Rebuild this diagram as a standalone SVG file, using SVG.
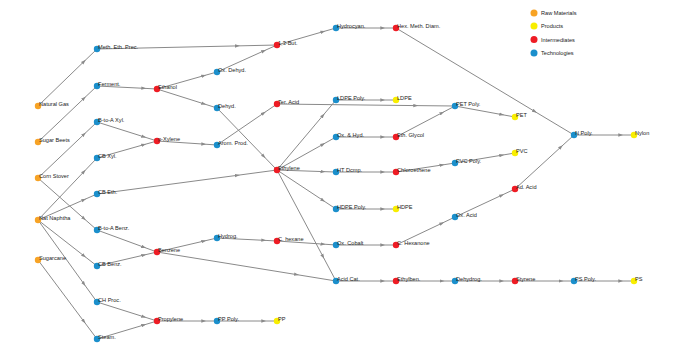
<svg xmlns="http://www.w3.org/2000/svg" width="674" height="364" viewBox="0 0 674 364">
<style>
.e{fill:none;stroke:#8a8a8a;stroke-width:1;marker-mid:url(#ar)}
.r{fill:#f7a325}.p{fill:#f8ee00}.i{fill:#ee1c24}.t{fill:#1b8fcc}
text{font-family:"Liberation Sans",Arial,sans-serif;font-size:5.6px;fill:#222}
</style>
<defs>
<marker id="ar" markerUnits="userSpaceOnUse" markerWidth="5" markerHeight="4" refX="2.5" refY="2" orient="auto"><path d="M0,0.3 L5,2 L0,3.7 z" fill="#8a8a8a"/></marker>
</defs>
<rect width="674" height="364" fill="#fff"/>
<g id="connectors">
<path class="e" d="M38,106 L84,61.5 L97,49"/>
<path class="e" d="M38,142 L84,98.3 L97,86"/>
<path class="e" d="M38,178 L84,134.3 L97,122"/>
<path class="e" d="M38,178 L84,218.6 L97,230"/>
<path class="e" d="M38,220 L84,171.6 L97,158"/>
<path class="e" d="M38,220 L84,199.7 L97,194"/>
<path class="e" d="M38,220 L84,255.9 L97,266"/>
<path class="e" d="M38,220 L84,284 L97,302"/>
<path class="e" d="M38,260 L84,321.6 L97,339"/>
<path class="e" d="M97,49 L237.4,45.9 L277,45"/>
<path class="e" d="M97,86 L143.8,88.3 L157,89"/>
<path class="e" d="M157,89 L203.8,75.7 L217,72"/>
<path class="e" d="M157,89 L203.8,103.8 L217,108"/>
<path class="e" d="M217,72 L263.8,50.9 L277,45"/>
<path class="e" d="M217,108 L263.8,156.4 L277,170"/>
<path class="e" d="M97,122 L143.8,136.8 L157,141"/>
<path class="e" d="M97,158 L143.8,144.7 L157,141"/>
<path class="e" d="M157,141 L203.8,144.1 L217,145"/>
<path class="e" d="M217,145 L263.8,113 L277,104"/>
<path class="e" d="M277,104 L415.8,105.6 L455,106"/>
<path class="e" d="M97,194 L237.4,175.3 L277,170"/>
<path class="e" d="M277,170 L323,115.4 L336,100"/>
<path class="e" d="M277,170 L323,144.3 L336,137"/>
<path class="e" d="M277,170 L323,171.6 L336,172"/>
<path class="e" d="M277,170 L323,200.4 L336,209"/>
<path class="e" d="M277,170 L323,256.6 L336,281"/>
<path class="e" d="M336,100 L382.8,100 L396,100"/>
<path class="e" d="M336,137 L382.8,137 L396,137"/>
<path class="e" d="M396,137 L442,112.8 L455,106"/>
<path class="e" d="M336,172 L382.8,172 L396,172"/>
<path class="e" d="M396,172 L442,165 L455,163"/>
<path class="e" d="M455,163 L501.8,155.2 L515,153"/>
<path class="e" d="M336,209 L382.8,209 L396,209"/>
<path class="e" d="M455,106 L501.8,114.6 L515,117"/>
<path class="e" d="M277,45 L323,31.7 L336,28"/>
<path class="e" d="M336,28 L382.8,28 L396,28"/>
<path class="e" d="M396,28 L534.8,111.5 L574,135"/>
<path class="e" d="M574,135 L620.8,135 L634,135"/>
<path class="e" d="M515,189 L561,146.9 L574,135"/>
<path class="e" d="M455,217 L501.8,195.2 L515,189"/>
<path class="e" d="M396,245 L442,223.2 L455,217"/>
<path class="e" d="M336,245 L382.8,245 L396,245"/>
<path class="e" d="M277,241 L323,244.1 L336,245"/>
<path class="e" d="M217,238 L263.8,240.3 L277,241"/>
<path class="e" d="M157,252 L203.8,241.1 L217,238"/>
<path class="e" d="M157,252 L296.6,274.6 L336,281"/>
<path class="e" d="M97,230 L143.8,247.2 L157,252"/>
<path class="e" d="M97,266 L143.8,255.1 L157,252"/>
<path class="e" d="M336,281 L382.8,281 L396,281"/>
<path class="e" d="M396,281 L442,281 L455,281"/>
<path class="e" d="M455,281 L501.8,281 L515,281"/>
<path class="e" d="M515,281 L561,281 L574,281"/>
<path class="e" d="M574,281 L620.8,281 L634,281"/>
<path class="e" d="M97,302 L143.8,316.8 L157,321"/>
<path class="e" d="M97,339 L143.8,325 L157,321"/>
<path class="e" d="M157,321 L203.8,321 L217,321"/>
<path class="e" d="M217,321 L263.8,321 L277,321"/>
</g>
<g id="n-natural-gas"><circle class="r" cx="38" cy="106" r="3.2"/><text x="39" y="106">Natural Gas</text></g>
<g id="n-sugar-beets"><circle class="r" cx="38" cy="142" r="3.2"/><text x="39" y="142">Sugar Beets</text></g>
<g id="n-corn-stover"><circle class="r" cx="38" cy="178" r="3.2"/><text x="39" y="178">Corn Stover</text></g>
<g id="n-nat-naphtha"><circle class="r" cx="38" cy="220" r="3.2"/><text x="39" y="220">Nat Naphtha</text></g>
<g id="n-sugarcane"><circle class="r" cx="38" cy="260" r="3.2"/><text x="39" y="260">Sugarcane</text></g>
<g id="n-meth-eth-prec"><circle class="t" cx="97" cy="49" r="3.2"/><text x="98" y="49">Meth. Eth. Prec.</text></g>
<g id="n-ferment"><circle class="t" cx="97" cy="86" r="3.2"/><text x="98" y="86">Ferment.</text></g>
<g id="n-b-to-a-xyl"><circle class="t" cx="97" cy="122" r="3.2"/><text x="98" y="122">B-to-A Xyl.</text></g>
<g id="n-cb-xyl"><circle class="t" cx="97" cy="158" r="3.2"/><text x="98" y="158">CB Xyl.</text></g>
<g id="n-cb-eth"><circle class="t" cx="97" cy="194" r="3.2"/><text x="98" y="194">CB Eth.</text></g>
<g id="n-b-to-a-benz"><circle class="t" cx="97" cy="230" r="3.2"/><text x="98" y="230">B-to-A Benz.</text></g>
<g id="n-cb-benz"><circle class="t" cx="97" cy="266" r="3.2"/><text x="98" y="266">CB Benz.</text></g>
<g id="n-ch-proc"><circle class="t" cx="97" cy="302" r="3.2"/><text x="98" y="302">CH Proc.</text></g>
<g id="n-steam"><circle class="t" cx="97" cy="339" r="3.2"/><text x="98" y="339">Steam.</text></g>
<g id="n-ethanol"><circle class="i" cx="157" cy="89" r="3.2"/><text x="158" y="89">Ethanol</text></g>
<g id="n-p-xylene"><circle class="i" cx="157" cy="141" r="3.2"/><text x="158" y="141">p-Xylene</text></g>
<g id="n-benzene"><circle class="i" cx="157" cy="252" r="3.2"/><text x="158" y="252">Benzene</text></g>
<g id="n-propylene"><circle class="i" cx="157" cy="321" r="3.2"/><text x="158" y="321">Propylene</text></g>
<g id="n-ox-dehyd"><circle class="t" cx="217" cy="72" r="3.2"/><text x="218" y="72">Ox. Dehyd.</text></g>
<g id="n-dehyd"><circle class="t" cx="217" cy="108" r="3.2"/><text x="218" y="108">Dehyd.</text></g>
<g id="n-arom-prod"><circle class="t" cx="217" cy="145" r="3.2"/><text x="218" y="145">Arom. Prod.</text></g>
<g id="n-hydrog"><circle class="t" cx="217" cy="238" r="3.2"/><text x="218" y="238">Hydrog.</text></g>
<g id="n-pp-poly"><circle class="t" cx="217" cy="321" r="3.2"/><text x="218" y="321">PP Poly.</text></g>
<g id="n-13-but"><circle class="i" cx="277" cy="45" r="3.2"/><text x="278" y="45">1,3-But.</text></g>
<g id="n-ter-acid"><circle class="i" cx="277" cy="104" r="3.2"/><text x="278" y="104">Ter. Acid</text></g>
<g id="n-ethylene"><circle class="i" cx="277" cy="170" r="3.2"/><text x="278" y="170">Ethylene</text></g>
<g id="n-c-hexane"><circle class="i" cx="277" cy="241" r="3.2"/><text x="278" y="241">C. hexane</text></g>
<g id="n-pp"><circle class="p" cx="277" cy="321" r="3.2"/><text x="278" y="321">PP</text></g>
<g id="n-hydrocyan"><circle class="t" cx="336" cy="28" r="3.2"/><text x="337" y="28">Hydrocyan.</text></g>
<g id="n-ldpe-poly"><circle class="t" cx="336" cy="100" r="3.2"/><text x="337" y="100">LDPE Poly.</text></g>
<g id="n-ox-hyd"><circle class="t" cx="336" cy="137" r="3.2"/><text x="337" y="137">Ox. &amp; Hyd.</text></g>
<g id="n-ht-dcmp"><circle class="t" cx="336" cy="172" r="3.2"/><text x="337" y="172">HT Dcmp.</text></g>
<g id="n-hdpe-poly"><circle class="t" cx="336" cy="209" r="3.2"/><text x="337" y="209">HDPE Poly.</text></g>
<g id="n-ox-cobalt"><circle class="t" cx="336" cy="245" r="3.2"/><text x="337" y="245">Ox. Cobalt</text></g>
<g id="n-acid-cat"><circle class="t" cx="336" cy="281" r="3.2"/><text x="337" y="281">Acid Cat.</text></g>
<g id="n-hex-meth-diam"><circle class="i" cx="396" cy="28" r="3.2"/><text x="397" y="28">Hex. Meth. Diam.</text></g>
<g id="n-ldpe"><circle class="p" cx="396" cy="100" r="3.2"/><text x="397" y="100">LDPE</text></g>
<g id="n-eth-glycol"><circle class="i" cx="396" cy="137" r="3.2"/><text x="397" y="137">Eth. Glycol</text></g>
<g id="n-chloroethene"><circle class="i" cx="396" cy="172" r="3.2"/><text x="397" y="172">Chloroethene</text></g>
<g id="n-hdpe"><circle class="p" cx="396" cy="209" r="3.2"/><text x="397" y="209">HDPE</text></g>
<g id="n-c-hexanone"><circle class="i" cx="396" cy="245" r="3.2"/><text x="397" y="245">C. Hexanone</text></g>
<g id="n-ethylben"><circle class="i" cx="396" cy="281" r="3.2"/><text x="397" y="281">Ethylben.</text></g>
<g id="n-pet-poly"><circle class="t" cx="455" cy="106" r="3.2"/><text x="456" y="106">PET Poly.</text></g>
<g id="n-pvc-poly"><circle class="t" cx="455" cy="163" r="3.2"/><text x="456" y="163">PVC Poly.</text></g>
<g id="n-ox-acid"><circle class="t" cx="455" cy="217" r="3.2"/><text x="456" y="217">Ox. Acid</text></g>
<g id="n-dehydrog"><circle class="t" cx="455" cy="281" r="3.2"/><text x="456" y="281">Dehydrog.</text></g>
<g id="n-pet"><circle class="p" cx="515" cy="117" r="3.2"/><text x="516" y="117">PET</text></g>
<g id="n-pvc"><circle class="p" cx="515" cy="153" r="3.2"/><text x="516" y="153">PVC</text></g>
<g id="n-ad-acid"><circle class="i" cx="515" cy="189" r="3.2"/><text x="516" y="189">Ad. Acid</text></g>
<g id="n-styrene"><circle class="i" cx="515" cy="281" r="3.2"/><text x="516" y="281">Styrene</text></g>
<g id="n-n-poly"><circle class="t" cx="574" cy="135" r="3.2"/><text x="575" y="135">N Poly.</text></g>
<g id="n-ps-poly"><circle class="t" cx="574" cy="281" r="3.2"/><text x="575" y="281">PS Poly.</text></g>
<g id="n-nylon"><circle class="p" cx="634" cy="135" r="3.2"/><text x="635" y="135">Nylon</text></g>
<g id="n-ps"><circle class="p" cx="634" cy="281" r="3.2"/><text x="635" y="281">PS</text></g>
<g id="legend">
<circle class="r" cx="534" cy="13" r="3.5"/><text x="541" y="15">Raw Materials</text>
<circle class="p" cx="534" cy="26" r="3.5"/><text x="541" y="28">Products</text>
<circle class="i" cx="534" cy="39.5" r="3.5"/><text x="541" y="41.5">Intermediates</text>
<circle class="t" cx="534" cy="53" r="3.5"/><text x="541" y="55">Technologies</text>
</g>
</svg>
